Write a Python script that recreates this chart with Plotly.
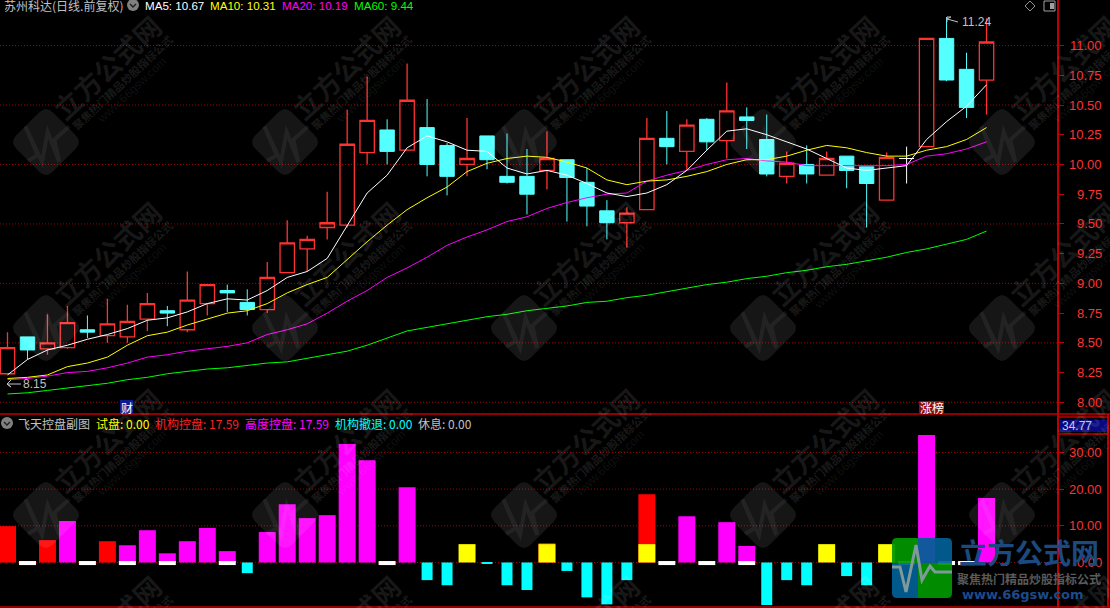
import plotly.graph_objects as go

W, H = 1110, 608
N = 50
IDX = list(range(N))

OPEN = [8.24,8.55,8.45,8.46,8.61,8.56,8.55,8.70,8.77,8.61,8.83,8.94,8.84,8.78,9.09,9.29,9.47,9.49,10.10,10.29,
        10.12,10.31,10.16,10.00,10.24,9.90,9.90,9.95,10.04,9.85,9.61,9.51,9.62,10.22,10.11,10.38,10.20,10.40,10.21,9.90,
        10.00,9.91,10.07,9.98,9.70,10.05,10.15,11.06,10.80,10.71]
CLOSE = [8.46,8.44,8.50,8.67,8.59,8.66,8.68,8.83,8.75,8.86,8.99,8.92,8.78,9.05,9.34,9.37,9.51,10.17,10.37,10.11,
         10.54,10.00,9.90,10.05,10.04,9.85,9.75,10.05,9.89,9.65,9.51,9.59,10.22,10.15,10.33,10.19,10.45,10.37,9.92,10.01,
         9.92,10.05,9.95,9.84,10.06,10.05,11.06,10.71,10.48,11.03]
HIGH = [8.59,8.55,8.74,8.81,8.73,8.87,8.82,8.92,8.81,9.10,8.99,8.99,8.95,9.18,9.53,9.40,9.77,10.46,10.74,10.38,
        10.85,10.55,10.18,10.39,10.24,10.26,10.13,10.28,10.04,9.97,9.70,9.64,10.39,10.45,10.38,10.39,10.69,10.48,10.42,10.11,
        10.16,10.11,10.07,9.98,10.10,10.15,11.06,11.24,10.94,11.23]
LOW = [8.24,8.36,8.40,8.45,8.54,8.50,8.50,8.60,8.64,8.59,8.73,8.76,8.73,8.75,9.09,9.10,9.37,9.47,10.00,10.00,
       10.12,9.90,9.74,9.90,9.96,9.84,9.58,9.79,9.52,9.48,9.37,9.30,9.62,10.00,9.95,10.12,10.05,10.13,9.90,9.84,
       9.84,9.91,9.80,9.47,9.70,9.84,10.15,10.70,10.39,10.42]
MA5 = [8.23,8.36,8.44,8.48,8.53,8.57,8.62,8.69,8.71,8.76,8.83,8.87,8.86,8.94,9.05,9.10,9.21,9.48,9.76,9.91,
       10.14,10.24,10.19,10.12,10.11,9.97,9.92,9.95,9.91,9.84,9.76,9.73,9.76,9.83,9.95,10.12,10.28,10.30,10.25,10.19,
       10.13,10.05,9.97,9.95,9.97,9.99,10.21,10.36,10.49,10.67]
MA10 = [8.20,8.21,8.23,8.30,8.33,8.38,8.48,8.56,8.59,8.65,8.70,8.75,8.77,8.83,8.92,8.99,9.05,9.20,9.35,9.49,
        9.62,9.72,9.81,9.94,10.01,10.05,10.07,10.06,10.02,9.97,9.87,9.83,9.86,9.87,9.90,9.94,10.00,10.04,10.04,10.07,
        10.12,10.16,10.14,10.10,10.07,10.07,10.12,10.15,10.21,10.31]
MA20 = [8.19,8.20,8.22,8.25,8.26,8.29,8.33,8.38,8.40,8.43,8.45,8.47,8.50,8.57,8.61,8.66,8.75,8.85,8.94,9.05,
        9.13,9.22,9.32,9.39,9.45,9.52,9.56,9.63,9.68,9.72,9.75,9.76,9.86,9.91,9.95,10.00,10.04,10.05,10.03,10.02,
        9.99,9.99,9.99,9.99,9.99,10.00,10.07,10.09,10.13,10.19]
MA60 = [8.07,8.08,8.10,8.12,8.14,8.16,8.19,8.21,8.24,8.26,8.28,8.29,8.31,8.33,8.34,8.37,8.40,8.43,8.48,8.54,
        8.60,8.63,8.66,8.69,8.72,8.74,8.77,8.79,8.81,8.84,8.85,8.88,8.90,8.93,8.96,8.99,9.01,9.04,9.06,9.09,
        9.11,9.14,9.16,9.19,9.22,9.26,9.29,9.33,9.37,9.44]
DOJI_IDX = [45]

_ = None
BAR_RED = [9.9,_,6.1,_,_,5.8,_,_,_,_,_,_,_,_,_,_,_,_,_,_,_,_,_,_,_,_,_,5.3,_,_,_,_,18.6,_,_,_,_,_,_,_,_,_,_,_,_,_,_,_,_,_]
BAR_MAGENTA = [_,_,_,11.3,_,_,4.7,8.8,2.5,5.8,9.4,3.1,_,8.3,15.9,12.1,12.9,32.3,27.9,_,20.5,_,_,_,_,_,_,_,_,_,_,_,_,_,12.6,_,11.0,4.5,_,_,_,_,_,_,_,_,34.77,_,_,17.59]
BAR_YELLOW = [_,_,_,_,_,_,_,_,_,_,_,_,_,_,_,_,_,_,_,_,_,_,_,5.0,_,_,_,5.0,_,_,_,_,5.0,_,_,_,_,_,_,_,_,5.0,_,_,5.0,_,_,_,_,_]
BAR_CYAN = [_,_,_,_,_,_,_,_,_,_,_,_,-2.9,_,_,_,_,_,_,_,_,-4.8,-6.2,_,-0.2,-6.2,-7.5,_,-2.3,-9.5,-11.4,-4.8,_,_,_,_,_,_,-11.6,-4.8,-6.2,_,-3.7,-6.2,_,_,_,_,_,_]
BAR_REST = [_,1.1,_,_,1.1,_,1.1,_,1.1,_,_,1.1,_,_,_,_,_,_,_,1.1,_,_,_,_,_,_,_,_,_,_,_,_,_,1.1,_,1.1,_,1.1,_,_,_,_,_,_,_,1.1,_,1.1,1.1,_]

PRICE_TICKS = [11.00,10.75,10.50,10.25,10.00,9.75,9.50,9.25,9.00,8.75,8.50,8.25,8.00]
PRICE_GRID = [11.0,10.5,10.0,9.5,9.0,8.5,8.0]
SUB_TICKS = [30.0,20.0,10.0,0.0]
PRICE_HEAD = [("MA5: 10.67",143,"#FFFFFF"),("MA10: 10.31",208,"#FFFF00"),("MA20: 10.19",280,"#FF00FF"),("MA60: 9.44",352,"#00FF00")]
SUB_HEAD = [("试盘: 0.00",94,"#FFFF00"),("机构控盘: 17.59",153,"#FF2020"),("高度控盘: 17.59",243,"#FF00FF"),("机构撤退: 0.00",333,"#00FFFF"),("休息: 0.00",416,"#C0C0C0")]

RED = "#FF3232"; CYAN = "#54FFFF"; AXIS = "#C00000"; GRID = "#A00000"
CJK = "Noto Sans CJK SC"; LAT = "Liberation Sans"

def px(x): return x / W
def py(y): return 1 - y / H

fig = go.Figure()

keep = [i for i in IDX if i not in DOJI_IDX]
fig.add_trace(go.Candlestick(
    x=keep, open=[OPEN[i] for i in keep], high=[HIGH[i] for i in keep],
    low=[LOW[i] for i in keep], close=[CLOSE[i] for i in keep],
    increasing=dict(line=dict(color=RED, width=1.3), fillcolor="rgba(0,0,0,0)"),
    decreasing=dict(line=dict(color=CYAN, width=1), fillcolor=CYAN),
    whiskerwidth=0, xaxis="x", yaxis="y", showlegend=False, hoverinfo="skip"))
fig.add_trace(go.Candlestick(
    x=DOJI_IDX, open=[OPEN[i] for i in DOJI_IDX], high=[HIGH[i] for i in DOJI_IDX],
    low=[LOW[i] for i in DOJI_IDX], close=[CLOSE[i] for i in DOJI_IDX],
    increasing=dict(line=dict(color="#FFFFFF", width=1), fillcolor="#FFFFFF"),
    decreasing=dict(line=dict(color="#FFFFFF", width=1), fillcolor="#FFFFFF"),
    whiskerwidth=0, xaxis="x", yaxis="y", showlegend=False, hoverinfo="skip"))

for vals, col in [(MA60,"#00FF00"),(MA20,"#FF00FF"),(MA10,"#FFFF00"),(MA5,"#FFFFFF")]:
    fig.add_trace(go.Scatter(x=IDX, y=vals, mode="lines", line=dict(color=col, width=1),
                             xaxis="x", yaxis="y", showlegend=False, hoverinfo="skip"))

for vals, col, wd in [(BAR_RED,"#FF0000",0.85),(BAR_MAGENTA,"#FF00FF",0.85),(BAR_YELLOW,"#FFFF00",0.85),(BAR_CYAN,"#00FFFF",0.55)]:
    fig.add_trace(go.Bar(x=IDX, y=vals, width=wd, marker=dict(color=col, line=dict(width=0)),
                         xaxis="x2", yaxis="y2", showlegend=False, hoverinfo="skip"))
fig.add_trace(go.Bar(x=IDX, y=BAR_REST, base=-0.7, width=0.85, marker=dict(color="#FFFFFF", line=dict(width=0)),
                     xaxis="x2", yaxis="y2", showlegend=False, hoverinfo="skip"))

shapes = []
def hline(y0, yref, color=GRID):
    shapes.append(dict(type="line", xref="paper", yref=yref, x0=0, x1=px(1058), y0=y0, y1=y0,
                       line=dict(color=color, width=1, dash="1px,2px"), layer="below"))
for v in PRICE_GRID: hline(v, "y")
for v in SUB_TICKS: hline(v, "y2")

def seg(x0, y0, x1, y1, color=AXIS, width=1.5):
    shapes.append(dict(type="line", xref="paper", yref="paper", x0=px(x0), x1=px(x1), y0=py(y0), y1=py(y1),
                       line=dict(color=color, width=width), layer="above"))
seg(0, 414, W, 414)
seg(0, 607, W, 607)
seg(1058, 0, 1058, 608, width=2)
seg(1108, 414, 1108, 607, width=2)
seg(1058, 417, 1108, 417); seg(1058, 434, 1108, 434)
shapes.append(dict(type="rect", xref="paper", yref="paper", x0=px(1060), x1=px(1107), y0=py(420), y1=py(432),
                   fillcolor="#0A0A80", line=dict(width=0), layer="above"))

def path(points, close=False):
    s = "M " + " L ".join(f"{px(x):.5f},{py(y):.5f}" for x, y in points)
    return s + (" Z" if close else "")

# watermark grid
WM_COLS = [46, 285, 524, 763, 1002]
WM_ROWS = [142, 328, 515, 702]
PULSE = [(-55,57),(-25,40),(-62,-47),(-12,60),(5,-30),(40,60),(25,-7),(70,-47)]
for ry in WM_ROWS:
    for cx in WM_COLS:
        r, c = 36.5, 7
        pts = (f"M {px(cx-r+c):.5f},{py(ry-c):.5f} L {px(cx-c):.5f},{py(ry-r+c):.5f} "
               f"Q {px(cx):.5f},{py(ry-r):.5f} {px(cx+c):.5f},{py(ry-r+c):.5f} "
               f"L {px(cx+r-c):.5f},{py(ry-c):.5f} Q {px(cx+r):.5f},{py(ry):.5f} {px(cx+r-c):.5f},{py(ry+c):.5f} "
               f"L {px(cx+c):.5f},{py(ry+r-c):.5f} Q {px(cx):.5f},{py(ry+r):.5f} {px(cx-c):.5f},{py(ry+r-c):.5f} "
               f"L {px(cx-r+c):.5f},{py(ry+c):.5f} Q {px(cx-r):.5f},{py(ry):.5f} {px(cx-r+c):.5f},{py(ry-c):.5f} Z")
        shapes.append(dict(type="path", xref="paper", yref="paper", path=pts,
                           fillcolor="rgba(255,255,255,0.085)", line=dict(width=0), layer="above"))
        shapes.append(dict(type="path", xref="paper", yref="paper",
                           path=path([(cx+a/3, ry+b/3) for a, b in PULSE]),
                           line=dict(color="rgba(255,255,255,0.06)", width=4), layer="above"))

# logo in the lower right corner
logo_blue = "rgba(0,95,150,0.93)"; logo_green = "rgba(0,150,0,0.93)"
def logo_quad(x0, x1, y0, y1, corner, col):
    rad = 5
    cx, cy = corner
    ox = x1 if cx == x0 else x0
    oy = y1 if cy == y0 else y0
    sx = rad if cx == x0 else -rad
    sy = rad if cy == y0 else -rad
    p = (f"M {px(cx+sx):.5f},{py(cy):.5f} L {px(ox):.5f},{py(cy):.5f} L {px(ox):.5f},{py(oy):.5f} "
         f"L {px(cx):.5f},{py(oy):.5f} L {px(cx):.5f},{py(cy+sy):.5f} Q {px(cx):.5f},{py(cy):.5f} {px(cx+sx):.5f},{py(cy):.5f} Z")
    shapes.append(dict(type="path", xref="paper", yref="paper", path=p, fillcolor=col, line=dict(width=0), layer="above"))
logo_quad(892,918,538,563,(892,538),logo_green)
logo_quad(918,952,538,563,(952,538),logo_blue)
logo_quad(892,918,563,598,(892,598),logo_blue)
logo_quad(918,952,563,598,(952,598),logo_green)
LOGO_PULSE = [(892,567),(900,567),(906,592),(916,545),(922,580),(930,566),(935,572),(952,572)]
shapes.append(dict(type="path", xref="paper", yref="paper", path=path(LOGO_PULSE),
                   line=dict(color="#7F9A9A", width=3), layer="above"))

# small icons
def icon_circle(cx, cy):
    shapes.append(dict(type="circle", xref="paper", yref="paper", x0=px(cx-6), x1=px(cx+6), y0=py(cy-6), y1=py(cy+6),
                       fillcolor="#808080", line=dict(width=0), layer="above"))
    shapes.append(dict(type="path", xref="paper", yref="paper", path=path([(cx-3,cy-1),(cx,cy+2),(cx+3,cy-1)]),
                       line=dict(color="#202020", width=1.4), layer="above"))
icon_circle(133, 5); icon_circle(7, 423)
shapes.append(dict(type="path", xref="paper", yref="paper", path=path([(1030,1),(1035,6),(1030,11),(1025,6)], True),
                   line=dict(color="#909090", width=1), layer="above"))
shapes.append(dict(type="rect", xref="paper", yref="paper", x0=px(1044), x1=px(1055), y0=py(1), y1=py(11),
                   line=dict(color="#A0A0A0", width=1), layer="above"))
shapes.append(dict(type="rect", xref="paper", yref="paper", x0=px(1050), x1=px(1054), y0=py(3), y1=py(9),
                   fillcolor="#A0A0A0", line=dict(width=0), layer="above"))
# extreme markers
shapes.append(dict(type="path", xref="paper", yref="paper", path=path([(947,22),(947,17),(951,17),(947,19),(958,22)]),
                   line=dict(color="#C0C0C0", width=1), layer="above"))
shapes.append(dict(type="path", xref="paper", yref="paper", path=path([(11,380),(7,384),(11,387),(7,384),(21,384)]),
                   line=dict(color="#C0C0C0", width=1), layer="above"))
# badges
shapes.append(dict(type="rect", xref="paper", yref="paper", x0=px(120), x1=px(133), y0=py(400), y1=py(413),
                   fillcolor="#101A90", line=dict(width=0), layer="above"))
shapes.append(dict(type="rect", xref="paper", yref="paper", x0=px(919), x1=px(944), y0=py(401), y1=py(413),
                   fillcolor="#8A1010", line=dict(width=0), layer="above"))

anns = []
def text(t, x, y, color, size, anchor="left", family=CJK, angle=0, bold=False):
    anns.append(dict(text=f"<b>{t}</b>" if bold else t, x=px(x), y=py(y), xref="paper", yref="paper",
                     xanchor=anchor, yanchor="middle", showarrow=False, textangle=angle,
                     font=dict(color=color, size=size, family=family)))

for ry in WM_ROWS:
    for cx in WM_COLS:
        text("立方公式网", cx+60, ry-75, "rgba(255,255,255,0.10)", 27, "center", CJK, -43, True)
        text("聚焦热门精品炒股指标公式", cx+76, ry-60, "rgba(255,255,255,0.11)", 11, "center", CJK, -43, True)
        text("www.66gsw.com", cx+86, ry-52, "rgba(255,255,255,0.08)", 12, "center", LAT, -43)

text("苏州科达(日线.前复权)", 2, 5, "#C0C0C0", 12)
for t, x, c in PRICE_HEAD: text(t, x, 5, c, 11.6, family=LAT)
text("飞天控盘副图", 16, 423, "#C0C0C0", 12)
for t, x, c in SUB_HEAD: text(t, x, 423, c, 12)
for v in PRICE_TICKS:
    anns.append(dict(text=f"{v:.2f}", x=px(1104), y=v, xref="paper", yref="y", xanchor="right", yanchor="middle",
                     showarrow=False, font=dict(color=RED, size=13, family=LAT)))
for v in SUB_TICKS:
    anns.append(dict(text=f"{v:.2f}", x=px(1104), y=v, xref="paper", yref="y2", xanchor="right", yanchor="middle",
                     showarrow=False, font=dict(color=RED, size=13, family=LAT)))
text("34.77", 1060, 426, "#C8C8E8", 12, family=LAT)
text("11.24", 960, 22, "#C0C0C0", 12, family=LAT)
text("8.15", 21, 384, "#C0C0C0", 12, family=LAT)
text("财", 126.5, 407, "#FFFFFF", 12, "center")
text("涨榜", 931.5, 407, "#FFFFFF", 12, "center")
text("立方公式网", 957, 552, "#1C4A80", 28, bold=True)
text("聚焦热门精品炒股指标公式", 955, 578, "#5A5A5A", 12, bold=True)
text("www.66gsw.com", 960, 594, "#1C4A8A", 13, family="DejaVu Sans", bold=True)

XRANGE = [-7.5/19.98, (1058-7.5)/19.98]
fig.update_layout(
    width=W, height=H, margin=dict(l=0, r=0, t=0, b=0), autosize=False,
    paper_bgcolor="#000000", plot_bgcolor="#000000", showlegend=False,
    barmode="overlay", boxmode="overlay", boxgap=0.28, boxgroupgap=0, shapes=shapes, annotations=anns,
    xaxis=dict(domain=[0, 1058/W], range=XRANGE, visible=False, rangeslider=dict(visible=False), anchor="y", fixedrange=True),
    xaxis2=dict(domain=[0, 1058/W], range=XRANGE, visible=False, anchor="y2", fixedrange=True),
    yaxis=dict(domain=[py(414), 1], range=[7.9016, 11.383], side="right", anchor="x", showgrid=False, zeroline=False,
               tickvals=PRICE_TICKS, ticks="outside", ticklen=5, tickcolor=AXIS, showticklabels=False, fixedrange=True),
    yaxis2=dict(domain=[py(607), py(415)], range=[-12.13, 40.2], side="right", anchor="x2", showgrid=False, zeroline=False,
                tickvals=SUB_TICKS, ticks="outside", ticklen=5, tickcolor=AXIS, showticklabels=False, fixedrange=True),
)
fig.write_html("out.html", config=dict(displayModeBar=False), post_script="document.body.style.margin='0';document.body.style.background='#000';")
